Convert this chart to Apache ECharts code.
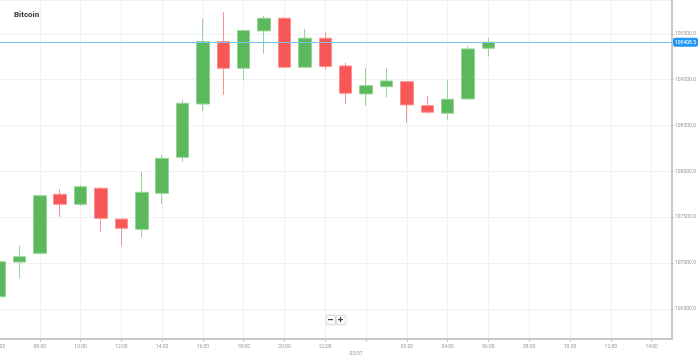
<!DOCTYPE html>
<html>
<head>
<meta charset="utf-8">
<script src="https://cdn.jsdelivr.net/npm/echarts@6/dist/echarts.min.js"></script>
<style>
html,body{margin:0;padding:0;background:#fff;}
#chart{width:699px;height:356px;}
</style>
</head>
<body>
<div id="chart"></div>
<script>
// Hourly categories (02/07 06:00 -> 03/07 15:00)
const hours = ['06:00','07:00','08:00','09:00','10:00','11:00','12:00','13:00','14:00','15:00',
  '16:00','17:00','18:00','19:00','20:00','21:00','22:00','23:00','00:00','01:00','02:00',
  '03:00','04:00','05:00','06:00 ','07:00','08:00 ','09:00','10:00 ','11:00','12:00 ','13:00','14:00 ','15:00'];
const openVals  = [106631,107010,107105,107749,107640,107815,107479,107367,107760,108153,108735,109416,109125,109533,109671,109136,109453,109150,108845,108924,108979,108717,108634,108790,109344];
const closeVals = [107013,107068,107734,107640,107832,107487,107378,107771,108142,108743,109416,109125,109536,109671,109136,109453,109143,108852,108935,108987,108725,108645,108787,109336,109408.5];
const lowVals   = [106600,106832,107100,107505,107621,107341,107185,107280,107643,108105,108659,108834,108990,109282,109130,109130,109107,108735,108717,108809,108531,108626,108561,108785,109252];
const highVals  = [107030,107188,107740,107804,107851,107830,107485,107996,108178,108779,109664,109737,109545,109697,109680,109555,109519,109187,109125,109125,108985,108823,108998,109369,109453];
const lastPrice = 109408.5;
const dateLabel = '03/07';

const candles = openVals.map((o, i) => [o, closeVals[i], lowVals[i], highVals[i]]);

const chart = echarts.init(document.getElementById('chart'));
const fontFam = 'Roboto, "Liberation Sans", sans-serif';
chart.setOption({
  animation: false,
  backgroundColor: '#fff',
  title: {
    text: 'Bitcoin', left: 9, top: 6,
    textStyle: { fontSize: 8, fontWeight: 'bold', color: '#333', fontFamily: fontFam }
  },
  grid: { left: -1, right: 27, top: 0, bottom: 17, containLabel: false, outerBoundsMode: 'none' },
  xAxis: {
    type: 'category',
    data: hours,
    boundaryGap: false,
    axisLine: { lineStyle: { color: '#c8c8c8', width: 2 } },
    axisTick: { interval: 1, length: 3, lineStyle: { color: '#c8c8c8' } },
    axisLabel: {
      interval: function (i) { return i % 2 === 0; },
      fontSize: 5, color: '#999', margin: 5, fontFamily: fontFam,
      showMinLabel: true, hideOverlap: false,
      formatter: function (v) { return v.trim() === '00:00' ? '{d|' + dateLabel + '}' : v.trim(); },
      rich: { d: { fontSize: 5, color: '#999', padding: [7, 20, 0, 0], fontFamily: fontFam } }
    },
    splitLine: { show: true, interval: 1, lineStyle: { color: '#f1f1f1' } }
  },
  yAxis: {
    type: 'value',
    position: 'right',
    min: 106170, max: 109870,
    splitNumber: 7, minInterval: 500, maxInterval: 500,
    scale: true,
    axisLine: { show: true, lineStyle: { color: '#c8c8c8', width: 2 } },
    axisTick: { show: true, length: 2, lineStyle: { color: '#c8c8c8' } },
    axisLabel: {
      fontSize: 5, color: '#999', margin: 3, fontFamily: fontFam,
      showMinLabel: false, showMaxLabel: false,
      formatter: function (v) { return v.toFixed(1); }
    },
    splitLine: { show: true, lineStyle: { color: '#f1f1f1' } }
  },
  series: [{
    type: 'candlestick',
    data: candles,
    barWidth: 13,
    clip: true,
    itemStyle: {
      color: '#5cb85c', color0: '#f75757',
      borderColor: '#95d495', borderColor0: '#fb9090', borderWidth: 1
    },
    markLine: {
      silent: true,
      symbol: ['none', 'none'],
      lineStyle: { color: '#74c4f4', type: 'solid', width: 1 },
      label: {
        position: 'end', distance: 1,
        formatter: function () { return lastPrice.toFixed(1); },
        backgroundColor: '#2196f3', color: '#fff', fontSize: 5,
        padding: [2, 2], borderRadius: 2, fontFamily: fontFam
      },
      data: [{ yAxis: lastPrice }]
    }
  }],
  graphic: [
    { type: 'rect', left: 326, top: 315, shape: { width: 9, height: 9, r: 1 },
      style: { fill: '#fff', stroke: '#e2e2e2', shadowBlur: 2, shadowColor: 'rgba(0,0,0,0.15)' } },
    { type: 'rect', left: 336, top: 315, shape: { width: 9, height: 9, r: 1 },
      style: { fill: '#fff', stroke: '#e2e2e2', shadowBlur: 2, shadowColor: 'rgba(0,0,0,0.15)' } },
    { type: 'rect', left: 328, top: 319, shape: { width: 5, height: 1.2 }, style: { fill: '#444' } },
    { type: 'rect', left: 338, top: 319, shape: { width: 5, height: 1.2 }, style: { fill: '#444' } },
    { type: 'rect', left: 339.9, top: 317, shape: { width: 1.2, height: 5 }, style: { fill: '#444' } }
  ]
});
</script>
</body>
</html>
